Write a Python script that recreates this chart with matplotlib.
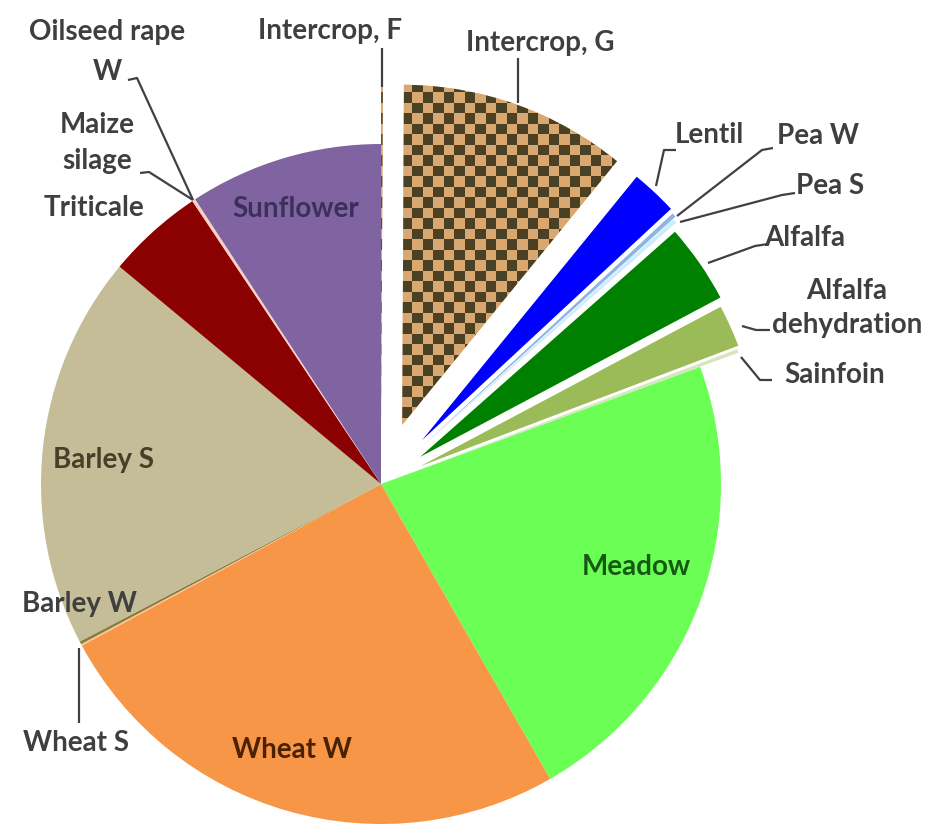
import numpy as np
import matplotlib
matplotlib.use("Agg")
import matplotlib.pyplot as plt
from matplotlib.colors import ListedColormap

# Crop area shares (%), clockwise from 12 o'clock
crops = ["Intercrop, F", "Intercrop, G", "Lentil", "Pea W", "Pea S", "Alfalfa",
         "Alfalfa\ndehydration", "Sainfoin", "Meadow", "Wheat W", "Wheat S",
         "Barley W", "Barley S", "Triticale", "Maize\nsilage", "Oilseed rape\nW",
         "Sunflower"]
shares = [0.08, 10.8, 2.2, 0.2, 0.2, 3.75, 2.0, 0.17, 22.3, 25.4, 0.08,
          0.14, 18.7, 4.6, 0.08, 0.08, 9.2]

# Slice offsets as a fraction of the radius (legumes and intercrops pulled out)
explode_frac = [0.17, 0.185, 0.176, 0.17, 0.16, 0.14, 0.127, 0.12, 0, 0, 0,
                0, 0, 0, 0, 0, 0]

colors = ["#D9A870", "#D9A870", "#0000FF", "#8DB4E2", "#CCECFF", "#008000",
          "#9BBB59", "#D7E4BD", "#6BFF55", "#F79646", "#FAC090",
          "#8B7D3A", "#C4BD97", "#8B0000", "#F8CBAD", "#FFC7CE", "#8064A2"]

W, H = 927, 825
fig = plt.figure(figsize=(W / 100, H / 100), dpi=100)
ax = fig.add_axes([0, 0, 1, 1])

cx, cy = 381, H - 484
R = 340
wedges, _ = ax.pie(shares, explode=[e * R for e in explode_frac], colors=colors,
                   startangle=90, counterclock=False, radius=R, center=(cx, cy),
                   frame=True, wedgeprops=dict(linewidth=0))

# Checkerboard fill for the two intercrop slices
cell = 10.5
x0, y0 = 360.0, H - 470.0
nx, ny = 30, 42
board = np.add.outer(np.arange(ny), np.arange(nx)) % 2
for w in wedges[:2]:
    im = ax.imshow(board, cmap=ListedColormap(["#D9A870", "#4A4024"]),
                   extent=(x0, x0 + nx * cell, y0, y0 + ny * cell),
                   origin="lower", interpolation="nearest", zorder=w.get_zorder() + 0.1)
    im.set_clip_path(w)

ax.set_xlim(0, W)
ax.set_ylim(0, H)
ax.set_aspect("equal")
ax.axis("off")

plt.rcParams["font.family"] = ["Lato", "DejaVu Sans"]
FS = 20
outside = "#3F3F3F"

# label centres in pixel coordinates (x, y from top) and line spacing
label_pos = {
    "Intercrop, F": (330, 31, 1.2, outside),
    "Intercrop, G": (540, 43, 1.2, outside),
    "Lentil": (709, 135, 1.2, outside),
    "Pea W": (818, 136, 1.2, outside),
    "Pea S": (830, 186, 1.2, outside),
    "Alfalfa": (805, 238, 1.2, outside),
    "Alfalfa\ndehydration": (847, 308, 1.4, outside),
    "Sainfoin": (835, 375, 1.2, outside),
    "Meadow": (636, 567, 1.2, "#155A12"),
    "Wheat W": (292, 750, 1.2, "#4A2200"),
    "Wheat S": (76, 743, 1.2, outside),
    "Barley W": (79, 604, 1.2, outside),
    "Barley S": (104, 460, 1.2, "#45402A"),
    "Triticale": (94, 208, 1.2, outside),
    "Maize\nsilage": (97, 143, 1.5, outside),
    "Oilseed rape\nW": (107, 52, 1.65, outside),
    "Sunflower": (296, 209, 1.2, "#3C2F5A"),
}
for name in crops:
    x, y, ls, c = label_pos[name]
    ax.text(x, H - y, name, ha="center", va="center", fontsize=FS,
            fontweight="bold", color=c, linespacing=ls, zorder=5)

leaders = [
    [(382, 48), (382, 87)],
    [(518, 58), (518, 103)],
    [(676, 150), (664, 150), (656, 186)],
    [(773, 148), (762, 150), (677, 216)],
    [(795, 193), (782, 195), (680, 222)],
    [(768, 244), (755, 246), (708, 263)],
    [(770, 330), (756, 330), (742, 326)],
    [(772, 380), (760, 380), (741, 357)],
    [(79, 648), (79, 723)],
    [(128, 80), (137, 78), (193, 200)],
    [(140, 173), (149, 172), (193, 200)],
]
for pts in leaders:
    xs = [p[0] for p in pts]
    ys = [H - p[1] for p in pts]
    ax.plot(xs, ys, color="#404040", lw=1.6, zorder=4, solid_capstyle="butt")

fig.savefig("out.png", dpi=100, facecolor="white")
